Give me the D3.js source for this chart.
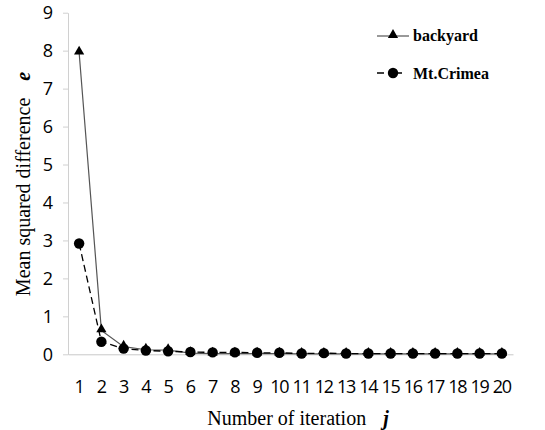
<!DOCTYPE html>
<html>
<head>
<meta charset="utf-8">
<script src="https://cdn.jsdelivr.net/npm/d3@7/dist/d3.min.js"></script>
<style>
  body { margin: 0; background: #fff; }
  svg { display: block; }
</style>
</head>
<body>
<svg id="chart" width="545" height="430"></svg>
<script>
var iterations = d3.range(1, 21);
var backyard = [7.95, 0.63, 0.2, 0.12, 0.11, 0.03, 0.02, 0.02, 0.02, 0.02, 0.01, 0.01, 0.01, 0.01, 0.01, 0.01, 0.01, 0.01, 0.01, 0.01];
var crimea = [2.92, 0.33, 0.15, 0.1, 0.08, 0.06, 0.05, 0.05, 0.04, 0.04, 0.02, 0.03, 0.02, 0.02, 0.02, 0.02, 0.02, 0.02, 0.02, 0.02];
var yTicks = [0, 1, 2, 3, 4, 5, 6, 7, 8, 9];

var svg = d3.select("#chart");
var plotLeft = 68, plotRight = 513, plotTop = 12.7, plotBottom = 354.3;

var x = d3.scaleBand().domain(iterations).range([plotLeft, plotRight]);
var y = d3.scaleLinear().domain([0, 9]).range([plotBottom, plotTop]);
var cx = function(d) { return x(d) + x.bandwidth() / 2; };

//y axis
var yAxis = svg.append("g")
  .attr("transform", "translate(" + plotLeft + ",0)")
  .call(d3.axisLeft(y).tickValues(yTicks).tickSize(5).tickPadding(10).tickSizeOuter(0));
yAxis.select(".domain").attr("stroke", "#d0d0d0");
yAxis.selectAll(".tick line").attr("stroke", "#d0d0d0");
yAxis.selectAll("text").attr("font-family", "Open Sans, sans-serif").attr("font-size", 18).attr("font-weight", 500).attr("fill", "#000");

//x axis
var xAxis = svg.append("g")
  .attr("transform", "translate(0," + plotBottom + ")")
  .call(d3.axisBottom(x).tickSize(0).tickPadding(26).tickSizeOuter(0));
xAxis.select(".domain").attr("stroke", "#c8c8c8");
xAxis.selectAll("text").attr("font-family", "Open Sans, sans-serif").attr("font-size", 18).attr("font-weight", 500).attr("fill", "#000").attr("letter-spacing", "-1.2px");

//lines
var line = function(vals) {
  return d3.line().x(function(d, i) { return cx(iterations[i]); }).y(function(d) { return y(d); })(vals);
};
svg.append("path").attr("d", line(backyard)).attr("fill", "none").attr("stroke", "#555").attr("stroke-width", 1.2);
svg.append("path").attr("d", line(crimea)).attr("fill", "none").attr("stroke", "#000").attr("stroke-width", 1.3).attr("stroke-dasharray", "7,4");

var tri = d3.symbol().type(d3.symbolTriangle).size(45);
svg.selectAll(".tri").data(backyard).enter().append("path")
  .attr("d", tri)
  .attr("transform", function(d, i) { return "translate(" + cx(iterations[i]) + "," + (y(d) - 1) + ")"; })
  .attr("fill", "#000");
svg.selectAll(".dot").data(crimea).enter().append("circle")
  .attr("cx", function(d, i) { return cx(iterations[i]); })
  .attr("cy", function(d) { return y(d); })
  .attr("r", 5.2).attr("fill", "#000");

//legend
var lg = svg.append("g").attr("font-family", "Liberation Serif, serif").attr("font-weight", "bold").attr("font-size", 16);
lg.append("line").attr("x1", 377).attr("x2", 409).attr("y1", 36).attr("y2", 36).attr("stroke", "#555").attr("stroke-width", 1.2);
lg.append("path").attr("d", tri).attr("transform", "translate(393,35)").attr("fill", "#000");
lg.append("text").attr("x", 413).attr("y", 41).text("backyard");
lg.append("line").attr("x1", 377).attr("x2", 409).attr("y1", 73).attr("y2", 73).attr("stroke", "#000").attr("stroke-width", 1.3).attr("stroke-dasharray", "7,11");
lg.append("circle").attr("cx", 393).attr("cy", 73).attr("r", 5.2).attr("fill", "#000");
lg.append("text").attr("x", 413).attr("y", 79).text("Mt.Crimea");

//axis titles
var xt = svg.append("text").attr("x", 298).attr("y", 425).attr("text-anchor", "middle")
  .attr("font-family", "Liberation Serif, serif").attr("font-size", 20);
xt.append("tspan").text("Number of iteration");
xt.append("tspan").attr("dx", 17).attr("font-weight", "bold").attr("font-style", "italic").text("j");

var yt = svg.append("text").attr("transform", "translate(30,184) rotate(-90)").attr("text-anchor", "middle")
  .attr("font-family", "Liberation Serif, serif").attr("font-size", 20);
yt.append("tspan").text("Mean squared difference");
yt.append("tspan").attr("dx", 17).attr("font-weight", "bold").attr("font-style", "italic").text("e");
</script>
</body>
</html>
